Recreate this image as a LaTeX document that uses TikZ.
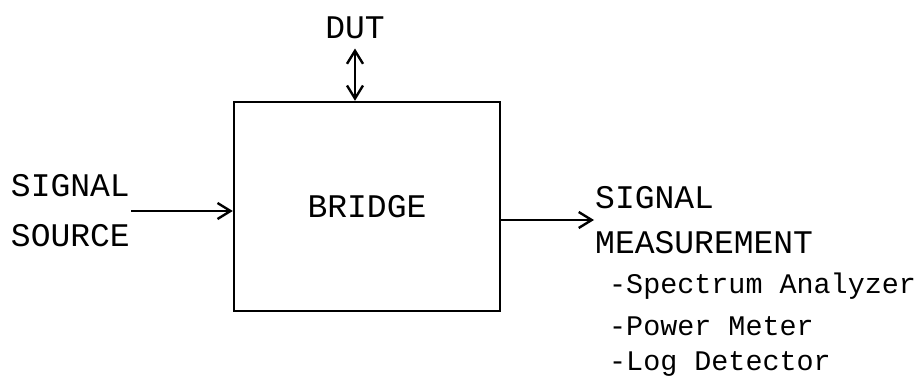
\documentclass[tikz,border=0pt]{standalone}
\usepackage{fontspec}
\setmonofont{Liberation Mono}
\usetikzlibrary{arrows.meta}
\begin{document}
\begin{tikzpicture}[x=0.5pt,y=0.5pt,line width=1.2pt,
  >={Straight Barb[length=6.5pt,width=8pt]},
  txt/.style={inner sep=0pt,align=left,font=\ttfamily\fontsize{16.5}{25}\selectfont},
  item/.style={inner sep=0pt,anchor=base west,font=\ttfamily\fontsize{14.2}{20}\selectfont}]
  \useasboundingbox (0,0) rectangle (920,381);

  \node [rectangle,draw,txt,minimum width=133pt,minimum height=104.5pt] (bridge) at (367,174.5) {BRIDGE};

  \node [txt,anchor=east] (src) at (131,170) {SIGNAL\\SOURCE};
  \node [txt,anchor=base,inner ysep=4.5pt] (dut) at (355,343) {DUT};
  \node [txt,anchor=west,font=\ttfamily\fontsize{16.5}{22.5}\selectfont] (meas) at (594,161) {SIGNAL\\MEASUREMENT};

  \node [item] (spec) at (608,88) {-Spectrum Analyzer};
  \node [item] (pwr) at (608,46) {-Power Meter};
  \node [item] (logd) at (608,11) {-Log Detector};

  \draw [->] (src.east) -- (src.east -| bridge.west);
  \draw [<->] (dut.south) -- (dut.south |- bridge.north);
  \draw [->] (bridge.east |- meas.west) -- (meas.west);
\end{tikzpicture}
\end{document}
